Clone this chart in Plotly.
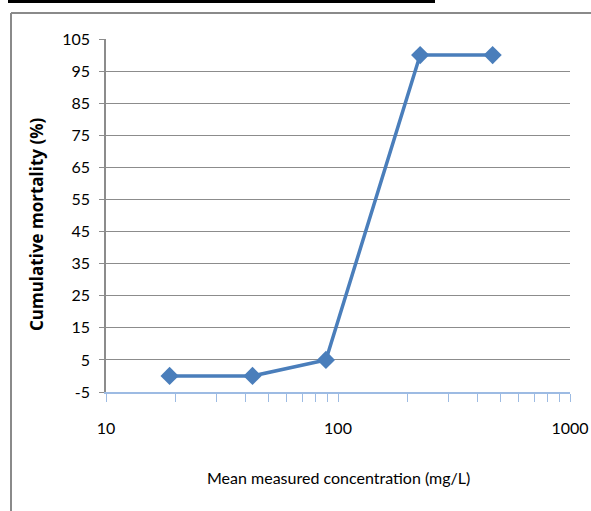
import plotly.graph_objects as go

# Mean measured concentration (mg/L) and cumulative mortality (%)
concentration = [18.8, 42.8, 88.7, 226, 464]
mortality = [0, 0, 5, 100, 100]

y_ticks = [-5, 5, 15, 25, 35, 45, 55, 65, 75, 85, 95, 105]
y_tick_labels = ["-5", "5", "15", "25", "35", "45", "55", "65", "75", "85", "95", "105"]
x_ticks = [10, 100, 1000]
x_tick_labels = ["10", "100", "1000"]

W, H = 591, 511
ML, MR, MT, MB = 106, 21, 39, 119
PW, PH = W - ML - MR, H - MT - MB


def px_x(px):
    return (px - ML) / PW


def px_y(py):
    return (H - MB - py) / PH


LINE_BLUE = "#4A7EBB"
GRID = "#8C8C8C"
AXIS_BLUE = "#9DBBE3"
FONT = "Lato, sans-serif"

fig = go.Figure()
fig.add_trace(go.Scatter(
    x=concentration,
    y=mortality,
    mode="lines+markers",
    line=dict(color=LINE_BLUE, width=3.5),
    marker=dict(symbol="diamond", size=14, color=LINE_BLUE),
    showlegend=False,
    cliponaxis=False,
))

fig.update_xaxes(
    type="log",
    range=[1, 3],
    automargin=False,
    tickvals=x_ticks,
    ticktext=x_tick_labels,
    ticks="outside",
    ticklen=8,
    tickcolor=AXIS_BLUE,
    tickwidth=1,
    showline=True,
    linecolor=AXIS_BLUE,
    linewidth=1.5,
    showgrid=False,
    zeroline=False,
    tickfont=dict(family=FONT, size=16, color="#000"),
    ticklabelstandoff=13,
    minor=dict(ticks="outside", ticklen=8, tickcolor=AXIS_BLUE, tickwidth=1,
               tickvals=[2, 3, 4, 5, 6, 7, 8, 9, 20, 30, 40, 50, 60, 70, 80, 90,
                         200, 300, 400, 500, 600, 700, 800, 900],
               showgrid=False),
)

fig.update_yaxes(
    range=[-5, 105],
    automargin=False,
    tickvals=y_ticks,
    ticktext=y_tick_labels,
    ticks="outside",
    ticklen=5,
    tickcolor=GRID,
    showline=True,
    linecolor=GRID,
    linewidth=1.5,
    showgrid=True,
    gridcolor=GRID,
    gridwidth=1.3,
    zeroline=False,
    tickfont=dict(family=FONT, size=16, color="#000"),
    ticklabelstandoff=6,
)

shapes = [
    # outer chart frame (left and top edges)
    dict(type="line", xref="paper", yref="paper",
         x0=px_x(11), x1=px_x(591), y0=px_y(13), y1=px_y(13),
         line=dict(color="#8A8A8A", width=2)),
    dict(type="line", xref="paper", yref="paper",
         x0=px_x(11), x1=px_x(11), y0=px_y(13), y1=px_y(511),
         line=dict(color="#8A8A8A", width=2)),
    # rule above the chart
    dict(type="line", xref="paper", yref="paper",
         x0=px_x(8), x1=px_x(435), y0=px_y(1.5), y1=px_y(1.5),
         line=dict(color="#000", width=3)),
]

annotations = [
    dict(text="Mean measured concentration (mg/L)", xref="paper", yref="paper",
         x=px_x(338), y=px_y(477), xanchor="center", yanchor="middle",
         showarrow=False, font=dict(family=FONT, size=16, color="#000")),
    dict(text="<b>Cumulative mortality (%)</b>", xref="paper", yref="paper",
         x=px_x(36), y=px_y(224), xanchor="center", yanchor="middle",
         textangle=-90, showarrow=False,
         font=dict(family="Open Sans, sans-serif", size=17, color="#000")),
]

fig.update_layout(
    width=W, height=H,
    margin=dict(l=ML, r=MR, t=MT, b=MB),
    paper_bgcolor="white",
    plot_bgcolor="white",
    shapes=shapes,
    annotations=annotations,
)

fig.write_html("out.html")
